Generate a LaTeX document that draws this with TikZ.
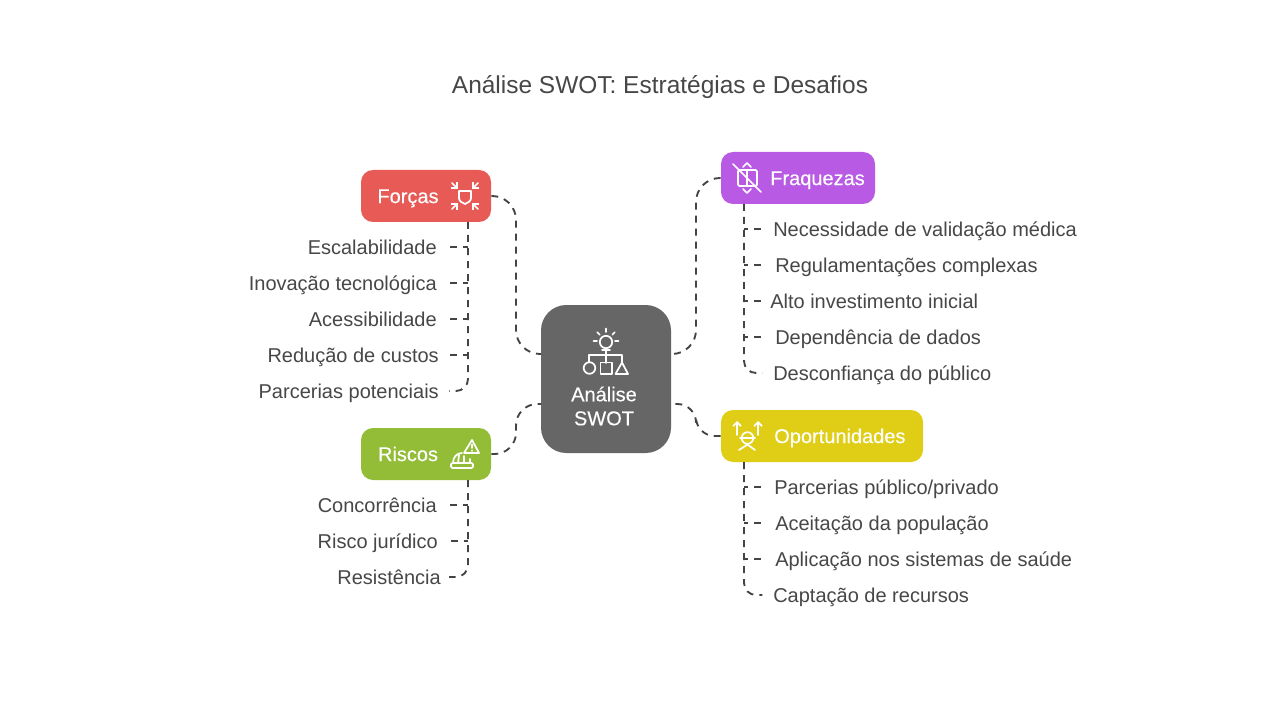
\documentclass[tikz,border=0pt]{standalone}
\usepackage{fontspec}
\setmainfont{Liberation Sans}
\newfontfamily\medfont[FakeBold=0.25]{Liberation Sans}
\usetikzlibrary{arrows.meta}
\definecolor{textgray}{HTML}{474747}
\definecolor{linegray}{HTML}{444444}
\definecolor{swotgray}{HTML}{666666}
\definecolor{forcasred}{HTML}{E85A55}
\definecolor{fraqpurple}{HTML}{B95AE4}
\definecolor{riscogreen}{HTML}{93BD37}
\definecolor{oportyellow}{HTML}{E0CD15}
\tikzset{
  box/.style={draw=none, rounded corners=9pt, minimum height=39pt, inner sep=0pt},
  boxlabel/.style={text=white, inner sep=0pt, font=\medfont\fontsize{15}{18}\selectfont},
  oneline/.style={text height=13pt, text depth=2.4pt},
  item/.style={text=textgray, inner sep=0pt, oneline, font=\fontsize{15}{18}\selectfont},
  conn/.style={draw=linegray, line width=1.4pt, dash pattern=on 5.25pt off 4.5pt},
  icon/.style={draw=white, line width=1.3pt, line cap=round, line join=round},
  iconarrow/.style={icon, -{Straight Barb[length=3pt, width=6pt]}}
}
\begin{document}
\begin{tikzpicture}[x=0.75pt, y=-0.75pt]
    \useasboundingbox (0,0) rectangle (1280,720);
    \fill[white] (0,0) rectangle (1280,720);

    \node[text=textgray, inner sep=0pt, text height=17pt, text depth=3.5pt, font=\fontsize{18.35}{22}\selectfont] (title) at (660,85) {Análise SWOT: Estratégias e Desafios};

    % boxes
    \node[box, fill=swotgray, rounded corners=19pt, minimum width=97.5pt, minimum height=111pt] (swot) at (606,379) {};
    \node[box, fill=forcasred, minimum width=97.5pt] (forcas) at (426,196) {};
    \node[box, fill=fraqpurple, minimum width=115.5pt] (fraquezas) at (798,178) {};
    \node[box, fill=riscogreen, minimum width=97.5pt] (riscos) at (426,454) {};
    \node[box, fill=oportyellow, minimum width=151.5pt] (oportunidades) at (822,436) {};

    \node[boxlabel, align=center] (swotlabel) at (604,406) {Análise\\SWOT};
    \node[boxlabel, oneline] (forcaslabel) at (408,196) {Forças};
    \node[boxlabel, oneline, anchor=west] (fraqlabel) at (770,178) {Fraquezas};
    \node[boxlabel, oneline] (riscoslabel) at (408,454) {Riscos};
    \node[boxlabel, oneline, anchor=west] (oportlabel) at (774,436) {Oportunidades};

    % connectors to the centre
    \coordinate (swotnw) at (541,354);
    \coordinate (swotsw) at (541,404);
    \coordinate (swotne) at (671,354);
    \coordinate (swotse) at (671,404);
    \coordinate (midleft) at (516,275);
    \coordinate (midright) at (696,275);
    \draw[conn, rounded corners=18pt] (forcas.east) -| (swotnw -| midleft) -- (swotnw);
    \draw[conn, rounded corners=18pt] (fraquezas.west) -| (swotne -| midright) -- (swotne);
    \draw[conn, rounded corners=16pt] (riscos.east) -| (swotsw -| midleft) -- (swotsw);
    \draw[conn, rounded corners=14pt] (oportunidades.west) -| (swotse -| midright) -- (swotse);

    % left lists
    \foreach \name/\txt/\xx/\yy in {fa/Escalabilidade/437/247, fb/Inovação tecnológica/437/283, fc/Acessibilidade/437/319, fd/Redução de custos/439/355, fe/Parcerias potenciais/439/391, ra/Concorrência/437/505, rb/Risco jurídico/438/541, rc/Resistência/441/577} {
        \node[item, anchor=east] (\name) at (\xx,\yy) {\txt};
    }
    % right lists
    \foreach \name/\txt/\xx/\yy in {wa/Necessidade de validação médica/773/229, wb/Regulamentações complexas/775/265, wc/Alto investimento inicial/770/301, wd/Dependência de dados/775/337, we/Desconfiança do público/773/373, oa/{Parcerias público/privado}/774/487, ob/Aceitação da população/775/523, oc/Aplicação nos sistemas de saúde/775/559, od/Captação de recursos/773/595} {
        \node[item, anchor=west] (\name) at (\xx,\yy) {\txt};
    }

    \coordinate (forcastop) at (468,222);
    \coordinate (riscostop) at (468,480);
    \coordinate (fraqtop) at (744,204);
    \coordinate (oporttop) at (744,462);

    \draw[conn, rounded corners=9pt] (forcastop) |- ([xshift=7.5pt]fe.east);
    \draw[conn, rounded corners=9pt] (riscostop) |- ([xshift=6pt]rc.east);
    \draw[conn, rounded corners=9pt] (fraqtop) |- ([xshift=-8pt]we.west);
    \draw[conn, rounded corners=9pt] (oporttop) |- ([xshift=-8pt]od.west);
    \foreach \name/\gap in {fa/10, fb/10, fc/10, fd/8.5} {
        \draw[conn] ([xshift=\gap pt]\name.east) -- (forcastop |- \name);
    }
    \foreach \name/\gap in {ra/10, rb/9.5} {
        \draw[conn] ([xshift=\gap pt]\name.east) -- (riscostop |- \name);
    }
    \foreach \name/\gap in {wa/-9, wb/-10.5, wc/-7, wd/-10.5} {
        \draw[conn] ([xshift=\gap pt]\name.west) -- (fraqtop |- \name);
    }
    \foreach \name/\gap in {oa/-9.5, ob/-10.5, oc/-10.5} {
        \draw[conn] ([xshift=\gap pt]\name.west) -- (oporttop |- \name);
    }

    % centre icon
    \draw[icon] (606,342) circle (6.2);
    \draw[icon] (602,350) -- (610,350);
    \foreach \a in {-180,-135,-90,-45,0} {
        \draw[icon] (606,341) ++(\a:9) -- ++(\a:3.5);
    }
    \draw[icon] (606,350) -- (606,363);
    \draw[icon] (589,362) -- (589,355) -- (622,355) -- (622,363);
    \draw[icon] (589.5,368) circle (5.8);
    \draw[icon] (600.5,362.5) rectangle (612,374);
    \draw[icon] (622,362.5) -- (628,374) -- (615.5,374) -- cycle;

    % forcas icon
    \draw[icon] (459,191) -- (471,191) -- (471,198) .. controls (471,201) and (468,203) .. (465,204) .. controls (462,203) and (459,201) .. (459,198) -- cycle;
    \foreach \xa/\ya/\xb/\yb in {452/183/458/189, 478/183/472/189, 452/209/458/203, 478/209/472/203} {
        \draw[iconarrow] (\xa,\ya) -- (\xb,\yb);
    }

    % fraquezas icon
    \draw[icon] (733,164) -- (761,192);
    \draw[icon, rounded corners=1pt] (738,170) rectangle (757,186);
    \draw[icon] (747,170) -- (747,186);
    \draw[icon] (743,167) -- (747,163) -- (751,167);
    \draw[icon] (743,189) -- (747,193) -- (751,189);

    % riscos icon
    \draw[icon] (472,440) -- (479,453) -- (464,453) -- cycle;
    \draw[icon] (472,444.5) -- (472,448);
    \draw[icon] (472,450.5) -- (472,451);
    \draw[icon, rounded corners=1pt] (451,463) rectangle (473,468);
    \draw[icon] (453,463) .. controls (453,457) and (457,453) .. (462,453);
    \draw[icon] (458,463) -- (459,455);
    \draw[icon] (464,463) -- (464,456);
    \draw[icon] (470,463) -- (470,459);

    % oportunidades icon
    \draw[iconarrow] (737,435) -- (737,421);
    \draw[iconarrow] (758,435) -- (758,421);
    \draw[icon] (747.5,438) circle (5.8);
    \draw[icon] (740,438) -- (755,438);
    \draw[icon] (739,450) -- (747.5,444.5) -- (755,450);
\end{tikzpicture}
\end{document}
